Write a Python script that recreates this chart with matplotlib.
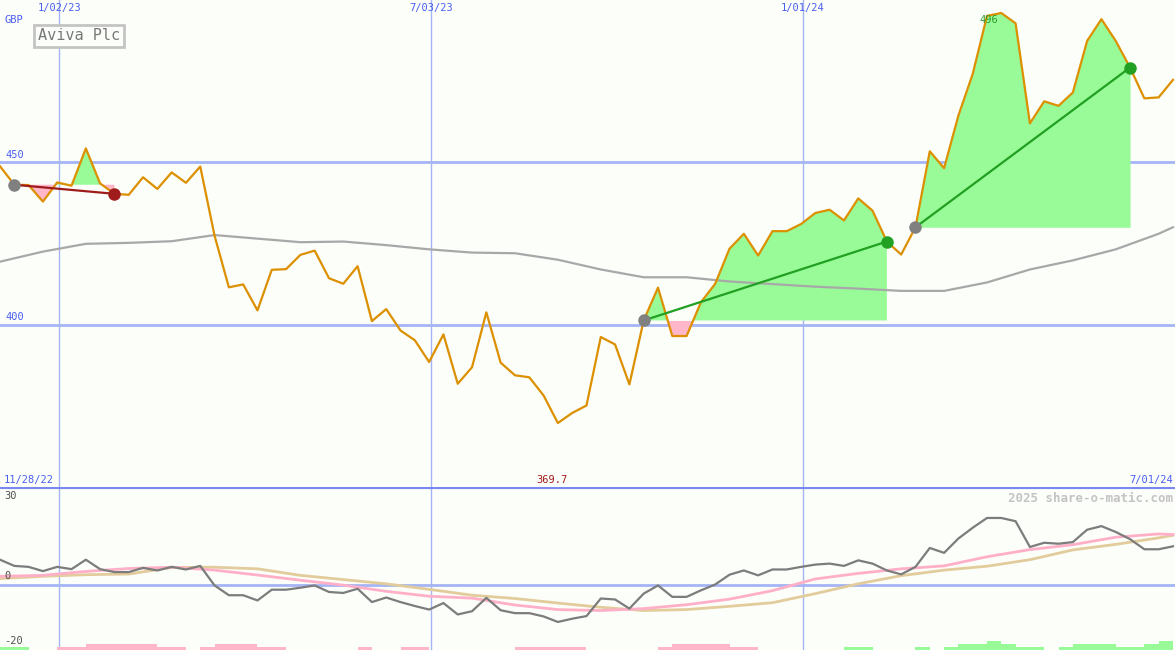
import numpy as np
import pandas as pd
import matplotlib
matplotlib.use("Agg")
import matplotlib.pyplot as plt

# weekly closes, GBP
start = "2022-12-04"
price = [448.8, 443.1, 443.0, 437.9, 443.8, 442.8, 454.3, 443.5, 440.3, 440.0,
         445.4, 441.8, 446.9, 443.7, 448.7, 427.4, 411.5, 412.4, 404.4, 416.9,
         417.1, 421.5, 422.8, 414.3, 412.6, 418.0, 401.1, 404.8, 398.2, 395.2,
         388.5, 397.0, 381.8, 386.9, 403.8, 388.3, 384.4, 383.8, 378.2, 369.7,
         372.8, 375.1, 396.2, 393.9, 381.6, 401.3, 411.4, 396.5, 396.5, 406.9,
         412.6, 423.4, 428.0, 421.3, 428.8, 428.8, 431.0, 434.4, 435.4, 432.1,
         438.9, 435.1, 425.6, 421.6, 430.0, 453.4, 448.2, 464.4, 477.2, 495.1,
         496.0, 492.8, 462.0, 468.8, 467.4, 471.5, 487.4, 494.1, 487.4, 479.2,
         469.7, 470.0, 475.4]

# long moving average (every third week)
ma_weeks = [0, 3, 6, 9, 12, 15, 18, 21, 24, 27, 30, 33, 36, 39, 42, 45, 48, 51,
            54, 57, 60, 63, 66, 69, 72, 75, 78, 81, 82]
ma_vals = [419.4, 422.5, 424.9, 425.2, 425.7, 427.6, 426.5, 425.4, 425.6, 424.5,
           423.2, 422.2, 422.0, 420.0, 417.0, 414.6, 414.6, 413.3, 412.5, 411.7,
           411.1, 410.4, 410.4, 413.0, 417.0, 419.8, 423.2, 428.0, 430.0]

# trades: (entry week, exit week)
trades = [(1, 8), (45, 62), (64, 79)]

# lower panel oscillator
osc = [7.7, 5.8, 5.5, 4.2, 5.5, 4.8, 7.7, 4.8, 3.9, 3.9, 5.2, 4.4, 5.5, 4.7, 5.8,
       -0.2, -3.2, -3.2, -4.8, -1.5, -1.5, -0.9, -0.2, -2.2, -2.5, -1.2, -5.3,
       -3.9, -5.3, -6.5, -7.6, -5.6, -9.1, -8.1, -4.0, -7.8, -8.7, -8.7, -9.7,
       -11.4, -10.4, -9.6, -4.2, -4.5, -7.3, -2.7, -0.2, -3.7, -3.7, -1.7, 0.1,
       3.1, 4.4, 2.9, 4.7, 4.7, 5.5, 6.2, 6.5, 5.8, 7.5, 6.5, 4.4, 3.2, 5.5, 11.3,
       9.8, 14.2, 17.5, 20.5, 20.5, 19.5, 11.6, 12.9, 12.6, 13.1, 16.9, 18.0,
       16.2, 14.0, 10.9, 10.9, 11.8]
sig_fast = [2.6, 2.9, 4.1, 5.0, 5.4, 4.5, 3.0, 1.4, -0.1, -2.0, -3.5, -4.1, -6.2,
            -7.6, -7.9, -7.3, -6.1, -4.4, -1.8, 1.8, 3.5, 4.9, 5.8, 8.6, 10.8,
            12.3, 14.6, 15.6, 15.4]
sig_slow = [1.9, 2.6, 3.1, 3.3, 5.3, 5.4, 4.9, 2.9, 1.6, 0.3, -1.4, -3.2, -4.2,
            -5.6, -6.9, -7.9, -7.6, -6.6, -5.5, -2.7, 0.3, 2.8, 4.5, 5.7, 7.7,
            10.7, 12.4, 14.4, 15.2]
hist = [1, 1, 0, 0, -1, -1, -2, -2, -2, -2, -2, -1, -1, 0, -1, -2, -2, -2, -1, -1,
        0, 0, 0, 0, 0, -1, 0, 0, -1, -1, 0, 0, 0, 0, 0, 0, -1, -1, -1, -1,
        -1, 0, 0, 0, 0, 0, -1, -2, -2, -2, -2, -1, -1, 0, 0, 0, 0, 0, 0, 1,
        1, 0, 0, 0, 1, 0, 1, 2, 2, 3, 2, 1, 1, 0, 1, 2, 2, 2, 1, 1,
        2, 3, 0]

date_ticks = ["2023-01-02", "2023-07-03", "2024-01-01"]
date_labels = ["1/02/23", "7/03/23", "1/01/24"]
price_ticks = [450, 400]

dates = pd.date_range(start, periods=len(price), freq="7D")
price = np.array(price)
ma_dates = dates[ma_weeks]
hist = np.array(hist)

BG = "#fcfefa"
BLUE_TXT = "#4a5ef0"
GRID = "#a4b4f4"
mono = "DejaVu Sans Mono"

fig = plt.figure(figsize=(11.75, 6.5), dpi=100, facecolor=BG)
ax = fig.add_axes([0, 163 / 650, 1, 487 / 650], facecolor=BG)
ax2 = fig.add_axes([0, 0, 1, 163 / 650], facecolor=BG)

xmin, xmax = pd.Timestamp(start), pd.Timestamp("2024-07-01")
for a in (ax, ax2):
    a.set_xlim(xmin, xmax)
    a.set_xticks([])
    a.set_yticks([])
    for s in a.spines.values():
        s.set_visible(False)
    for d in date_ticks:
        a.axvline(pd.Timestamp(d), color=GRID, lw=1, zorder=1)

ax.set_ylim(350, 500)
ax2.set_ylim(-20, 30)

for p in price_ticks:
    ax.axhline(p, color=GRID, lw=2, zorder=1)
    ax.annotate(str(p), (0, p), xycoords=("axes fraction", "data"), xytext=(4, 2),
                textcoords="offset points", color=BLUE_TXT, fontsize=7.5, family=mono,
                va="bottom")

# trade fills
for a_i, b_i in trades:
    d = dates[a_i:b_i + 1]
    p = price[a_i:b_i + 1]
    base = price[a_i]
    ax.fill_between(d, p, base, where=p >= base, interpolate=True, color="#98fb98", lw=0, zorder=2)
    ax.fill_between(d, p, base, where=p < base, interpolate=True, color="#ffb6c8", lw=0, zorder=2)

# long MA, drawn over the fills
ax.plot(ma_dates, ma_vals, color="#a8a8a8", lw=1.6, zorder=2.5)

ax.plot(dates, price, color="#dc9000", lw=1.6, zorder=3)

for a_i, b_i in trades:
    win = price[b_i] > price[a_i]
    c = "#22a022" if win else "#a01c1c"
    ax.plot([dates[a_i], dates[b_i]], [price[a_i], price[b_i]], color=c, lw=1.6, zorder=4)
    ax.plot(dates[a_i], price[a_i], "o", color="#808080", ms=9, mec="none", zorder=5)
    ax.plot(dates[b_i], price[b_i], "o", color=c, ms=9, mec="none", zorder=5)

# labels
top = ax.get_xaxis_transform()
for d, lab in zip(date_ticks, date_labels):
    ax.text(pd.Timestamp(d), 0.994, lab, transform=top, ha="center", va="top",
            color=BLUE_TXT, fontsize=7.5, family=mono)
ax.text(0.004, 0.958, "GBP", transform=ax.transAxes, ha="left", va="center",
        color=BLUE_TXT, fontsize=7.5, family=mono)
ax.text(0.003, 0.004, "11/28/22", transform=ax.transAxes, ha="left", va="bottom",
        color=BLUE_TXT, fontsize=7.5, family=mono)
ax.text(0.998, 0.004, "7/01/24", transform=ax.transAxes, ha="right", va="bottom",
        color=BLUE_TXT, fontsize=7.5, family=mono)

imax, imin = int(price.argmax()), int(price.argmin())
ax.annotate(f"{price[imax]:.0f}", (dates[imax], 0.958), xycoords=("data", "axes fraction"),
            xytext=(-9, 0), textcoords="offset points", ha="center", va="center",
            color="#2a9a2a", fontsize=7.5, family=mono)
ax.annotate(f"{price[imin]:.1f}", (dates[imin], 0.004), xycoords=("data", "axes fraction"),
            xytext=(-4, 0), textcoords="offset points", ha="center", va="bottom",
            color="#a01c1c", fontsize=7.5, family=mono)

ax.text(38 / 1175, 1 - 36 / 487, "Aviva Plc", transform=ax.transAxes, ha="left", va="center",
        color="#787878", fontsize=11, family=mono,
        bbox=dict(boxstyle="square,pad=0.25", fc=BG, ec="#c4c4c4", lw=2))

# lower panel
ax2.axhline(0, color=GRID, lw=2, zorder=1)
ax2.axhline(30, color="#7888f0", lw=3, zorder=6)
hcol = np.where(hist > 0, "#98fb98", "#ffb6c8")
ax2.bar(dates, np.abs(hist) * 0.92, width=7, bottom=-20, align="edge", color=hcol, lw=0, zorder=2)
ax2.plot(dates[ma_weeks], sig_slow, color="#e2cc9c", lw=2, zorder=3)
ax2.plot(dates[ma_weeks], sig_fast, color="#ffb0c8", lw=2, zorder=3)
ax2.plot(dates, osc, color="#7c7c7c", lw=1.6, zorder=4)

for v, va in [(30, "top"), (0, "bottom"), (-20, "bottom")]:
    ax2.annotate(str(v), (0, v), xycoords=("axes fraction", "data"), xytext=(3, -3 if va == "top" else 3),
                 textcoords="offset points", color="#505050", fontsize=7.5, family=mono, va=va)
ax2.text(0.998, 0.93, "2025 share-o-matic.com", transform=ax2.transAxes, ha="right", va="center",
         color="#c4c4c4", fontsize=9, family=mono, fontweight="bold")

fig.savefig("out.png", dpi=100, facecolor=BG)
